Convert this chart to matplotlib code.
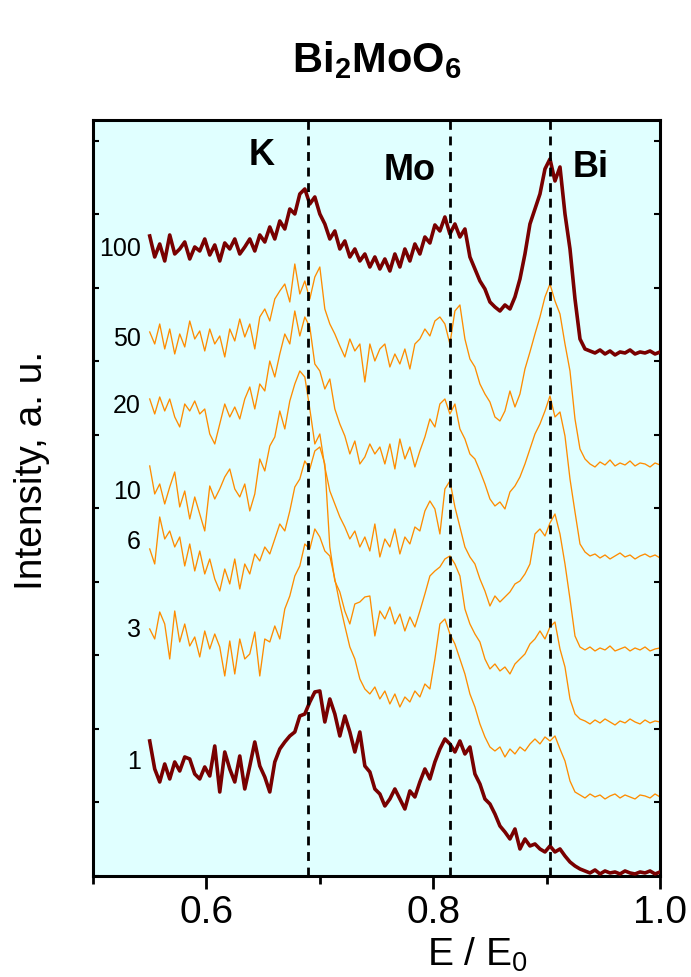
import numpy as np
import matplotlib.pyplot as plt
from matplotlib.ticker import MultipleLocator

plt.rcParams['font.family'] = ['Liberation Sans', 'DejaVu Sans']
plt.rcParams['mathtext.fontset'] = 'custom'
plt.rcParams['mathtext.rm'] = 'Liberation Sans'
plt.rcParams['mathtext.bf'] = 'Liberation Sans:bold'

# energy axis E/E0 (same grid for every spectrum)
energy = np.linspace(0.55, 1.0, 103)

# spectra with their vertical offsets already applied (a. u.)
spec_100 = [640, 619, 632, 615, 641, 622, 627, 634, 617, 629, 625, 637, 621, 631, 615, 633, 627, 637, 622,
            629, 637, 625, 641, 634, 649, 637, 655, 647, 667, 662,
            682, 687, 672, 679, 662, 652, 637, 645, 627, 635, 619, 627, 615, 622, 609, 619, 607, 617, 605,
            622, 609, 627, 615, 632, 622, 639, 633, 651, 645, 659, 642, 652, 639, 647,
            619, 607, 595, 587, 574, 569, 565, 571, 567, 579, 597, 622, 652, 667, 682, 707, 717, 695, 709,
            662, 627, 577, 537, 527, 525,
            523, 526, 522, 525, 521, 524, 523, 526, 522, 524, 523, 525, 522, 524]
spec_50 = [544, 532, 552, 527, 547, 522, 542, 529, 555, 537, 545, 525, 547, 532, 540, 519, 547, 535, 557, 539,
           552, 527, 559,
           567, 555, 577, 585, 592, 574, 612, 582, 595, 577, 599, 609, 567, 552, 542, 530, 519, 537, 525, 532,
           494, 532, 515,
           527, 532, 509, 522, 512, 527, 507, 532, 537, 547, 540, 555, 559, 552, 532, 565, 571, 537, 517, 509,
           492, 482, 474,
           459, 455, 465, 485, 469, 482, 507, 524, 542, 559, 579, 592, 575, 562, 532, 505, 457, 427, 417, 412,
           409, 414, 411, 416, 410, 413, 411, 415, 410, 413, 412, 409, 413, 411]
spec_20 = [477, 462, 479, 465, 477, 459, 449, 472, 465, 475, 462, 467, 442, 432, 452, 472, 459, 469, 457, 477,
           489, 467, 492, 485,
           515, 499, 522, 542, 532, 565, 540, 559, 549, 512, 505, 487, 497, 467, 452, 440, 422, 435, 412, 419,
           432, 422, 429, 412,
           432, 407, 437, 417, 429, 409, 425, 439, 457, 449, 472, 477, 462, 472, 447, 437, 422, 417, 405, 392,
           377, 370, 374, 367,
           384, 390, 399, 412, 427, 442, 452, 465, 480, 459, 464, 440, 397, 364, 332, 324, 320,
           322, 318, 321, 317, 320, 323, 319, 321, 317, 320, 322, 319, 321, 318]
spec_10 = [410, 382, 392, 372, 389, 404, 369, 385, 357, 379, 362, 345, 390, 377, 387, 399, 407, 387, 379, 392,
           365, 382, 417, 405,
           430, 439, 465, 447, 475, 492, 505, 499, 467, 432, 442, 409, 385, 372, 359, 349, 337, 345, 329, 339,
           325, 352, 319, 337,
           329, 347, 322, 339, 332, 349, 345, 365, 375, 367, 342, 387, 395, 369, 349, 329, 319, 312, 297, 285,
           270, 280, 274, 279,
           284, 292, 295, 302, 312, 342, 347, 340, 353, 362, 342, 312, 277, 240, 229, 226,
           229, 225, 228, 226, 230, 225, 227, 229, 225, 228, 226, 229, 225, 227, 228]
spec_6 = [327, 312, 359, 337, 345, 329, 339, 310, 332, 305, 325, 302, 317, 297, 285, 307, 292, 317, 287, 312,
          302, 322, 315, 329,
          322, 337, 352, 345, 365, 389, 397, 415, 407, 425, 429, 412, 329, 295, 284, 265, 252, 272, 274, 279,
          280, 240, 265, 257,
          269, 252, 262, 245, 259, 249, 265, 282, 300, 305, 309, 317, 320, 312, 300, 267, 252, 242, 234, 217,
          207, 212, 205, 209,
          202, 212, 217, 222, 232, 237, 245, 237, 249, 254, 227, 209, 177, 162, 157,
          155, 152, 156, 153, 157, 154, 151, 155, 153, 157, 154, 152, 156, 153, 155, 154]
spec_3 = [247, 237, 264, 252, 217, 265, 234, 252, 230, 239, 219, 245, 227, 242, 229, 200, 235, 202, 237, 217,
          222, 244, 200, 237,
          234, 250, 237, 267, 280, 300, 310, 332, 327, 347, 339, 325, 320, 297, 272, 250, 229, 217, 197, 187,
          182, 189, 177, 185,
          172, 182, 169, 179, 174, 185, 179, 192, 187, 217, 252, 257, 242, 232, 217, 202, 182, 169, 152, 139,
          129, 125, 129, 119,
          127, 122, 129, 125, 132, 137, 132, 139, 135, 140, 127, 115, 95, 84,
          81, 78, 82, 79, 81, 77, 80, 82, 78, 81, 79, 77, 81, 80, 78, 82, 79]
spec_1 = [135, 107, 94, 112, 97, 114, 105, 119, 117, 102, 97, 109, 100, 130, 84, 124, 107, 94, 120, 87,
          110, 134, 110, 99,
          84, 114, 127, 134, 140, 144, 160, 162, 174, 184, 185, 154, 177, 162, 140, 160, 144, 124, 144, 110,
          104, 87, 82, 70,
          77, 87, 77, 67, 85, 79, 94, 107, 97, 114, 127, 137, 132, 124, 135, 122, 129, 102, 92, 77,
          72, 62, 50, 44,
          37, 47, 27, 37, 30, 32, 27, 24, 30, 24, 27, 20, 14, 10, 7,
          5, 3, 6, 2, 5, 3, 4, 2, 5, 3, 2, 4, 3, 5, 2, 4]

labels = ['100', '50', '20', '10', '6', '3', '1']
label_levels = [628, 538, 471, 385, 335, 247, 115]
edge_positions = [0.69, 0.815, 0.903]
edge_names = ['K', 'Mo', 'Bi']
edge_label_x = [0.649, 0.779, 0.939]
edge_label_y = [721, 706, 709]

dark = '#780000'
orange = '#FF8C00'

fig = plt.figure(figsize=(6.91, 9.78), dpi=100)
ax = fig.add_axes([0.1346, 0.1033, 0.8206, 0.7730])
ax.set_facecolor('#E0FFFF')

spectra = [spec_100, spec_50, spec_20, spec_10, spec_6, spec_3, spec_1]
for k, s in enumerate(spectra):
    if k == 0 or k == len(spectra) - 1:
        ax.plot(energy, s, color=dark, lw=2.6, zorder=3)
    else:
        ax.plot(energy, s, color=orange, lw=0.95, zorder=2)

for xe in edge_positions:
    ax.axvline(xe, color='black', lw=2.0, dashes=(3.2, 2.4), zorder=4)

for name, xl, yl in zip(edge_names, edge_label_x, edge_label_y):
    ax.text(xl, yl, name, fontsize=26, fontweight='bold', ha='center', va='center', zorder=5)

for lab, yl in zip(labels, label_levels):
    ax.text(0.542, yl, lab, fontsize=18, ha='right', va='center')

ax.set_xlim(0.5, 1.0)
ax.set_ylim(0, 756)
ax.xaxis.set_major_locator(MultipleLocator(0.2))
ax.xaxis.set_minor_locator(MultipleLocator(0.1))
ax.yaxis.set_major_locator(MultipleLocator(73.5))
ax.tick_params(axis='x', which='major', direction='out', length=9, width=2, labelsize=28, pad=4, top=False)
ax.tick_params(axis='x', which='minor', direction='out', length=6, width=2, top=False)
ax.tick_params(axis='y', which='major', direction='in', length=4, width=1.5, left=True, right=True,
               labelleft=False)
ax.xaxis.set_major_formatter(plt.FuncFormatter(lambda v, p: f'{v:.1f}'))
for sp in ax.spines.values():
    sp.set_linewidth(2.2)

ax.set_xlabel(r'E / E$_0$', fontsize=28)
ax.xaxis.set_label_coords(0.677, -0.078)
ax.set_ylabel('Intensity, a. u.', fontsize=28)
ax.yaxis.set_label_coords(-0.075, 0.538)

fig.text(0.545, 0.939, r'$\mathbf{Bi_2MoO_6}$', fontsize=30, ha='center', va='center')

plt.savefig('out.png', dpi=100)
